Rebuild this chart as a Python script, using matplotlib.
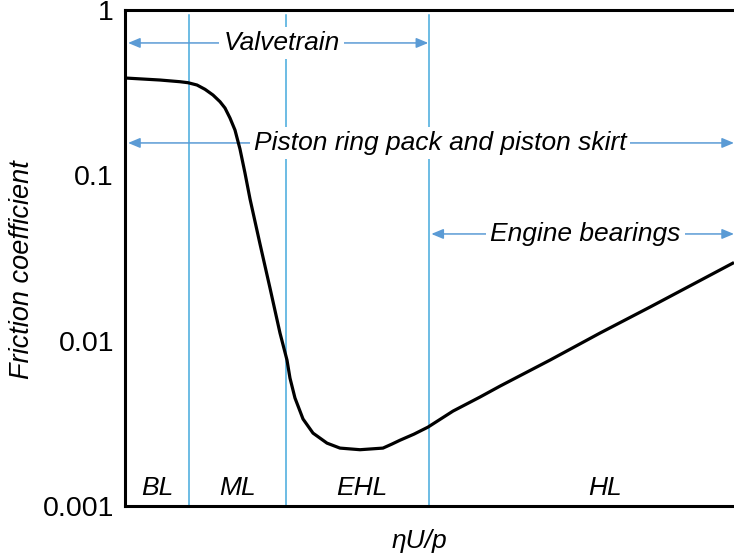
import matplotlib.pyplot as plt
import matplotlib as mpl

# Stribeck-type curve, x is relative position along ηU/p (no scale shown)
curve_x = [0.0, 0.0575, 0.0903, 0.1034, 0.1182, 0.1314, 0.1445, 0.1560, 0.1642, 0.1724,
           0.1806, 0.1888, 0.1970, 0.2053, 0.2217, 0.2381, 0.2545, 0.2660, 0.2709, 0.2791,
           0.2923, 0.3087, 0.3317, 0.3530, 0.3859, 0.4236, 0.4384, 0.4516, 0.4745, 0.4975,
           0.5386, 0.5829, 0.6158, 0.6979, 0.7800, 0.8621, 0.9442, 1.0]
curve_y = [0.3879, 0.3771, 0.3683, 0.3633, 0.3518, 0.3313, 0.3060, 0.2788, 0.2553, 0.2221,
           0.1879, 0.1442, 0.1033, 0.0719, 0.0384, 0.0208, 0.01112, 0.00763, 0.00594, 0.00450,
           0.00336, 0.00276, 0.00240, 0.00224, 0.00219, 0.00224, 0.00237, 0.00250, 0.00272, 0.00300,
           0.00375, 0.00456, 0.00531, 0.00763, 0.01112, 0.01597, 0.02310, 0.02969]

# regime boundaries
boundaries = [0.105, 0.264, 0.499]
regimes = ["BL", "ML", "EHL", "HL"]
regime_x = [0.053, 0.184, 0.389, 0.788]

# component ranges
comp_labels = ["Valvetrain", "Piston ring pack and piston skirt", "Engine bearings"]
comp_start = [0.005, 0.005, 0.503]
comp_end = [0.498, 1.0, 1.0]
comp_level = [0.632, 0.157, 0.0442]
comp_text_x = [0.257, 0.517, 0.756]

yticks = [0.001, 0.01, 0.1, 1]
ytick_labels = ["0.001", "0.01", "0.1", "1"]

plt.rcParams['font.family'] = ['Liberation Sans', 'DejaVu Sans']

fig = plt.figure(figsize=(7.34, 5.57), dpi=100)
ax = fig.add_axes([125/734, 1 - 506/557, 609/734, 496/557])

blue_line = '#45a9dd'
blue_arrow = '#5b9bd5'

for b in boundaries:
    ax.plot([b, b], [0.00102, 0.93], color=blue_line, lw=1.1, zorder=1)

for lab, x0, x1, yl, tx in zip(comp_labels, comp_start, comp_end, comp_level, comp_text_x):
    ax.annotate("", xy=(x0, yl), xytext=(x1, yl),
                arrowprops=dict(arrowstyle="<|-|>,head_length=0.6,head_width=0.25",
                                color=blue_arrow, lw=1.1, shrinkA=0, shrinkB=0,
                                mutation_scale=12), zorder=2)
    ax.text(tx, yl, lab, fontsize=19, style='italic', ha='center', va='center',
            zorder=3, bbox=dict(boxstyle='square,pad=0.15', fc='white', ec='none'))

ax.plot(curve_x, curve_y, color='black', lw=2.3, zorder=4,
        solid_capstyle='butt', solid_joinstyle='round')

for lab, rx in zip(regimes, regime_x):
    ax.text(rx, 0.00128, lab, fontsize=19, style='italic', ha='center', va='center')

ax.set_yscale('log')
ax.set_ylim(0.001, 1)
ax.set_xlim(0, 1)
ax.set_yticks(yticks)
ax.set_yticklabels(ytick_labels, fontsize=20.5)
ax.yaxis.set_minor_locator(mpl.ticker.NullLocator())
ax.tick_params(axis='y', length=0, pad=8)
ax.set_xticks([])

for s in ['left', 'bottom', 'top']:
    ax.spines[s].set_linewidth(2.2)
ax.spines['right'].set_visible(False)

ax.set_ylabel("Friction coefficient", fontsize=19.5, style='italic')
ax.yaxis.set_label_coords(-0.148, 0.476)
ax.set_xlabel("ηU/p", fontsize=19, style='italic')
ax.xaxis.set_label_coords(0.484, -0.046)

fig.savefig('out.png', dpi=100)
